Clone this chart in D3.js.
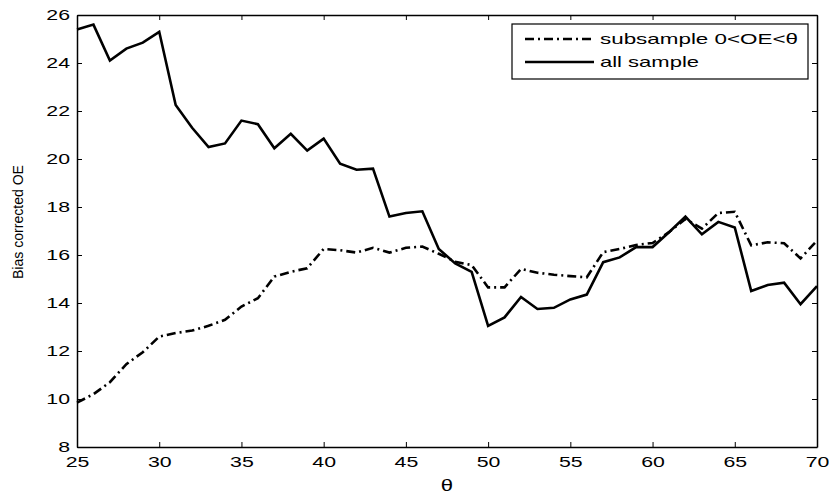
<!DOCTYPE html>
<html>
<head>
<meta charset="utf-8">
<script src="https://cdn.jsdelivr.net/npm/d3@7"></script>
<style>
  body { margin: 0; background: #fff; }
  svg { display: block; }
  text { font-family: "Liberation Sans", Arial, sans-serif; fill: #000; }
</style>
</head>
<body>
<svg width="829" height="496"></svg>
<script>
// theta values on the x axis
const theta = d3.range(25, 71);

// bias corrected OE, all sample
const allSample = [25.4, 25.6, 24.1, 24.6, 24.85, 25.3, 22.25, 21.3, 20.5, 20.65,
    21.6, 21.45, 20.45, 21.05, 20.35, 20.85, 19.8, 19.55, 19.6, 17.6,
    17.75, 17.82, 16.25, 15.65, 15.3, 13.05, 13.4, 14.25, 13.75, 13.8,
    14.15, 14.35, 15.7, 15.9, 16.33, 16.33, 16.95, 17.6, 16.86, 17.38,
    17.15, 14.5, 14.75, 14.85, 13.95, 14.7];

// bias corrected OE, subsample 0<OE<theta
const subSample = [9.85, 10.2, 10.7, 11.45, 11.95, 12.6, 12.75, 12.85, 13.05, 13.3,
    13.85, 14.2, 15.1, 15.3, 15.45, 16.25, 16.2, 16.1, 16.3, 16.1,
    16.3, 16.35, 16.05, 15.72, 15.58, 14.65, 14.65, 15.42, 15.26, 15.18,
    15.12, 15.07, 16.12, 16.25, 16.42, 16.5, 16.95, 17.5, 17.1, 17.75,
    17.8, 16.4, 16.53, 16.49, 15.86, 16.6];

const xTicks = [25, 30, 35, 40, 45, 50, 55, 60, 65, 70];
const yTicks = [8, 10, 12, 14, 16, 18, 20, 22, 24, 26];

const margin = { left: 77, right: 12, top: 15, bottom: 49 };
const width = 829, height = 496;
const stretch = 1.42; // the exported fonts are wider than they are tall

const svg = d3.select('svg');

const x = d3.scaleLinear().domain([25, 70]).range([margin.left, width - margin.right]);
const y = d3.scaleLinear().domain([8, 26]).range([height - margin.bottom, margin.top]);

// box axes with inward ticks, like matlab
const tick = 5;
const g = svg.append('g');

const xAxis = g.append('g')
    .attr('transform', `translate(0,${y(8)})`)
    .call(d3.axisBottom(x).tickValues(xTicks).tickSizeInner(-tick).tickSizeOuter(0).tickPadding(9))
g.append('g')
    .attr('transform', `translate(0,${y(26)})`)
    .call(d3.axisTop(x).tickValues(xTicks).tickSizeInner(-tick).tickSizeOuter(0).tickFormat(''))
const yAxis = g.append('g')
    .attr('transform', `translate(${x(25)},0)`)
    .call(d3.axisLeft(y).tickValues(yTicks).tickSizeInner(-tick).tickSizeOuter(0).tickPadding(7))
g.append('g')
    .attr('transform', `translate(${x(70)},0)`)
    .call(d3.axisRight(y).tickValues(yTicks).tickSizeInner(-tick).tickSizeOuter(0).tickFormat(''))

g.selectAll('.domain').attr('stroke', '#000').attr('stroke-width', 1.5)
g.selectAll('.tick line').attr('stroke', '#000').attr('stroke-width', 1)
g.selectAll('.tick text')
    .attr('font-family', '"Liberation Sans", Arial, sans-serif')
    .attr('font-size', 15)
    .attr('fill', '#000')

xAxis.selectAll('.tick text').attr('transform', `scale(${stretch},1)`)
yAxis.selectAll('.tick text')
    .attr('x', -7 / stretch)
    .attr('transform', `scale(${stretch},1)`)

const line = d3.line()
    .x((d, i) => x(theta[i]))
    .y(d => y(d));

svg.append('path')
    .datum(subSample)
    .attr('d', line)
    .attr('fill', 'none')
    .attr('stroke', '#000')
    .attr('stroke-width', 2.6)
    .attr('stroke-dasharray', '9,4,2,4')

svg.append('path')
    .datum(allSample)
    .attr('d', line)
    .attr('fill', 'none')
    .attr('stroke', '#000')
    .attr('stroke-width', 2.6)

// legend
const legend = svg.append('g');
legend.append('rect')
    .attr('x', 512).attr('y', 24)
    .attr('width', 296).attr('height', 55)
    .attr('fill', '#fff')
    .attr('stroke', '#000')
    .attr('stroke-width', 1.2)

const items = [
    { label: 'subsample 0<OE<\u03b8', dash: '9,4,2,4', len: 198 },
    { label: 'all sample', dash: null, len: 99 }
];
items.forEach((it, i) => {
    const ly = 39 + i * 23;
    legend.append('line')
        .attr('x1', 525).attr('x2', 594)
        .attr('y1', ly).attr('y2', ly)
        .attr('stroke', '#000')
        .attr('stroke-width', 2.6)
        .attr('stroke-dasharray', it.dash)
    legend.append('text')
        .attr('x', 600).attr('y', ly + 5)
        .attr('font-size', 15)
        .attr('textLength', it.len)
        .attr('lengthAdjust', 'spacingAndGlyphs')
        .text(it.label)
});

// axis labels
svg.append('text')
    .attr('transform', 'translate(23,222) rotate(-90)')
    .attr('text-anchor', 'middle')
    .attr('font-size', 14)
    .attr('textLength', 114)
    .attr('lengthAdjust', 'spacingAndGlyphs')
    .text('Bias corrected OE')

svg.append('text')
    .attr('transform', `translate(${x(47.5)},491) scale(1.3,1)`)
    .attr('text-anchor', 'middle')
    .attr('font-family', '"Liberation Serif", "DejaVu Serif", serif')
    .attr('font-size', 17)
    .text('\u03b8')
</script>
</body>
</html>
